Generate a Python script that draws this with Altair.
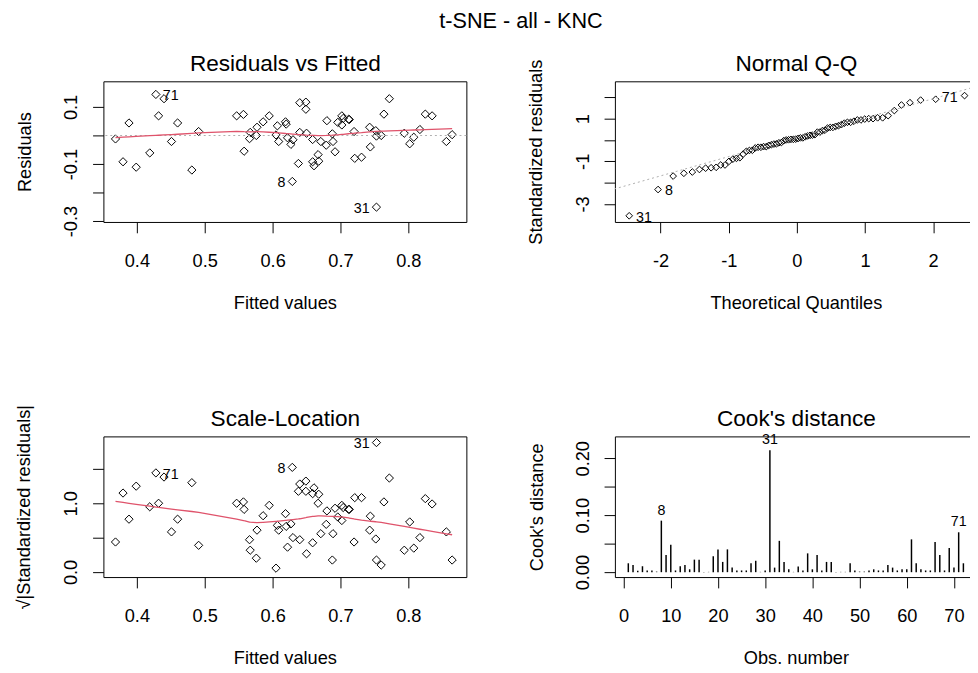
import json
import altair as alt
import pandas as pd

FONT = "Liberation Sans"
RED = "#DF536B"
GRAY = "#ADADAD"
FS = 18.5

# ---------------- data ----------------
obs = list(range(1, 73))
fitted = [0.3685, 0.3796, 0.3884, 0.3990, 0.4190, 0.4320, 0.4400, 0.6290,
          0.4510, 0.4600, 0.4810, 0.4910, 0.5470, 0.5570, 0.5580, 0.5660, 0.5670, 0.5760, 0.5770, 0.5860,
          0.5950, 0.6050, 0.6070, 0.6090, 0.6190, 0.6200, 0.6220, 0.6270, 0.6300, 0.6380,
          0.7530,
          0.6400, 0.6400, 0.6490, 0.6490, 0.6500, 0.6590, 0.6590, 0.6610, 0.6670, 0.6680,
          0.6710, 0.6790, 0.6800, 0.6880, 0.6890, 0.6920, 0.6960, 0.7020, 0.7020, 0.7040,
          0.7120, 0.7130, 0.7200, 0.7210, 0.7310, 0.7430, 0.7440, 0.7520, 0.7530, 0.7600,
          0.7640, 0.7720, 0.7940, 0.8020, 0.8080, 0.8170, 0.8250, 0.8350, 0.8560,
          0.4280, 0.8645]
residuals = [-0.012, -0.092, 0.044, -0.111, -0.061, 0.069, 0.129, -0.161,
             -0.021, 0.044, -0.121, 0.014, 0.069, 0.074, -0.055, -0.011, 0.011, 0.000, 0.029, 0.048,
             0.069, 0.002, 0.034, -0.021, 0.048, 0.040, -0.008, -0.031, -0.015, -0.098,
             -0.251,
             0.011, 0.115, 0.117, 0.092, 0.008, -0.014, -0.092, -0.106, -0.067, -0.090,
             -0.021, -0.034, 0.052, 0.006, -0.021, -0.057, 0.046, 0.069, 0.037, 0.060,
             0.057, 0.056, 0.014, -0.080, -0.076, 0.029, -0.040, 0.017, -0.002, 0.000,
             0.075, 0.129, 0.008, -0.029, -0.006, 0.021, 0.075, 0.069, -0.021,
             0.144, 0.003]
std_resid = [-0.19, -1.32, 0.59, -1.56, -0.90, 1.00, 1.91, -2.32,
             -0.34, 0.59, -1.69, 0.15, 1.00, 1.04, -0.83, -0.22, 0.10, 0.04, 0.37, 0.67,
             0.94, 0.003, 0.46, -0.37, 0.72, 0.44, -0.13, -0.49, -0.25, -1.38,
             -3.55,
             0.22, 1.64, 1.75, 1.38, 0.07, -0.18, -1.30, -1.50, -1.00, -1.28,
             -0.31, -0.48, 0.79, 0.03, -0.31, -0.86, 0.64, 0.94, 0.56, 0.88,
             0.83, 0.83, 0.19, -1.17, -1.17, 0.37, -0.66, 0.23, -0.03, 0.01,
             1.04, 1.87, 0.10, -0.53, -0.12, 0.25, 1.14, 0.98, -0.34,
             2.08, 0.03]
cooks = [0.0156, 0.0127, 0.0023, 0.0104, 0.003, 0.003, 0.001, 0.0904, 0.030, 0.048,
         0.003, 0.0104, 0.0127, 0.005, 0.022, 0.022, 0.0005, 0.0005, 0.028, 0.040,
         0.018, 0.040, 0.008, 0.003, 0.003, 0.003, 0.0156, 0.020, 0.0005, 0.003,
         0.214, 0.008, 0.055, 0.018, 0.005, 0.0005, 0.010, 0.003, 0.033, 0.005,
         0.030, 0.003, 0.018, 0.018, 0.0005, 0.0005, 0.0005, 0.0156, 0.003, 0.001,
         0.001, 0.003, 0.005, 0.003, 0.003, 0.0127, 0.008, 0.003, 0.005, 0.005,
         0.0576, 0.0156, 0.005, 0.003, 0.003, 0.053, 0.030, 0.003, 0.0426, 0.008,
         0.070, 0.0156]
label_ids = [8, 31, 71]

main_title = "t-SNE - all - KNC"
panel_titles = ["Residuals vs Fitted", "Normal Q-Q", "Scale-Location", "Cook's distance"]

fit_ticks = [0.4, 0.5, 0.6, 0.7, 0.8]
fit_tick_labels = ["0.4", "0.5", "0.6", "0.7", "0.8"]
resid_ticks = [-0.3, -0.2, -0.1, 0.0, 0.1]
resid_tick_labels = ["-0.3", "", "-0.1", "", "0.1"]
sl_ticks = [0.0, 0.5, 1.0, 1.5]
sl_tick_labels = ["0.0", "", "1.0", ""]
qq_x_ticks = [-2, -1, 0, 1, 2]
qq_x_tick_labels = ["-2", "-1", "0", "1", "2"]
qq_y_ticks = [-3, -2, -1, 0, 1, 2]
qq_y_tick_labels = ["-3", "", "-1", "", "1", ""]
cook_x_ticks = [0, 10, 20, 30, 40, 50, 60, 70]
cook_x_tick_labels = ["0", "10", "20", "30", "40", "50", "60", "70"]
cook_y_ticks = [0.0, 0.05, 0.10, 0.15, 0.20]
cook_y_tick_labels = ["0.00", "", "0.10", "", "0.20"]

df = pd.DataFrame({"obs": obs, "fitted": fitted, "residuals": residuals,
                   "std_resid": std_resid})
cook_df = pd.DataFrame({"obs": obs, "cooks": cooks})

W_L, W_R, H = 369, 361, 143   # right column is cut by the picture's edge


def lab_expr(ticks, labels):
    return f"{json.dumps(labels)}[indexof({json.dumps(ticks)}, datum.value)]"


def x_axis(title, ticks, labels, title_x):
    return alt.Axis(orient="bottom", title=title, values=ticks,
                    labelExpr=lab_expr(ticks, labels),
                    grid=False, domain=True, domainColor="black", domainWidth=1,
                    ticks=True, tickSize=11, tickColor="black", tickWidth=1,
                    labelAngle=0, labelAlign="center", labelBaseline="middle",
                    labelPadding=28, labelFont=FONT, labelFontSize=FS,
                    labelColor="black", labelOverlap=False, labelFlush=False,
                    titleX=title_x, titleY=82, titleAngle=0, titleAlign="center",
                    titleBaseline="middle", titleFont=FONT, titleFontSize=FS,
                    titleFontWeight="normal", titleColor="black")


def y_axis(title, ticks, labels, title_x=-80):
    return alt.Axis(orient="left", title=title, values=ticks,
                    labelExpr=lab_expr(ticks, labels),
                    grid=False, domain=True, domainColor="black", domainWidth=1,
                    ticks=True, tickSize=11, tickColor="black", tickWidth=1,
                    labelAngle=270, labelAlign="center", labelBaseline="middle",
                    labelPadding=22, labelFont=FONT, labelFontSize=FS,
                    labelColor="black", labelOverlap=False, labelFlush=False,
                    titleX=title_x, titleY=H / 2, titleAngle=270, titleAlign="center",
                    titleBaseline="middle", titleFont=FONT, titleFontSize=FS,
                    titleFontWeight="normal", titleColor="black")


def text_axis(orient, title, tx, ty, size=23, domain=True):
    # an axis that only carries a title (panel / figure titles) and the frame line
    return alt.Axis(orient=orient, title=title, domain=domain, domainColor="black",
                    domainWidth=1, ticks=False, labels=False, grid=False,
                    titleX=tx, titleY=ty, titleAngle=0,
                    titleAlign="center", titleBaseline="middle", titleFont=FONT,
                    titleFontSize=size, titleFontWeight="normal", titleColor="black")


def frame_axis_right():
    return alt.Axis(orient="right", title="", domain=True, domainColor="black",
                    domainWidth=1, ticks=False, labels=False, grid=False)


def qx(f):
    return alt.X(f"{f}:Q", axis=None)


def qy(f):
    return alt.Y(f"{f}:Q", axis=None)


def title_layer(base, xf, text, yf, title_x, right="frame"):
    enc = {"x": alt.X(f"{xf}:Q", axis=text_axis("top", text, title_x, -18))}
    if right == "frame":
        enc["y"] = alt.Y(f"{yf}:Q", axis=frame_axis_right())
    elif right == "figure":
        # figure title, centred over the whole 2x2 figure (x = 520 px)
        enc["y"] = alt.Y(f"{yf}:Q",
                         axis=text_axis("right", main_title, -457, -62, 22, domain=False))
    else:
        enc["y"] = qy(yf)
    return base.mark_point(opacity=0).encode(**enc)


def id_labels(base, xf, yf):
    src = (base.transform_joinaggregate(xmin=f"min({xf})", xmax=f"max({xf})")
           .transform_filter(alt.FieldOneOfPredicate(field="obs", oneOf=label_ids)))
    left = (src.transform_filter(f"datum.{xf} <= (datum.xmin + datum.xmax) / 2")
            .mark_text(align="left", baseline="middle", dx=7, dy=2, font=FONT,
                       fontSize=14.5, color="black")
            .encode(x=qx(xf), y=qy(yf), text="obs:N"))
    right = (src.transform_filter(f"datum.{xf} > (datum.xmin + datum.xmax) / 2")
             .mark_text(align="right", baseline="middle", dx=-7, dy=2, font=FONT,
                        fontSize=14.5, color="black")
             .encode(x=qx(xf), y=qy(yf), text="obs:N"))
    return left, right


# ---------------- Residuals vs Fitted ----------------
base1 = alt.Chart(df)
x1 = alt.X("fitted:Q", scale=alt.Scale(domain=[0.3507, 0.8855], nice=False, zero=False),
           axis=x_axis("Fitted values", fit_ticks, fit_tick_labels, W_L / 2))
y1 = alt.Y("residuals:Q", scale=alt.Scale(domain=[-0.303, 0.19], nice=False, zero=False),
           axis=y_axis("Residuals", resid_ticks, resid_tick_labels))
pts1 = base1.mark_point(shape="diamond", filled=False, color="black", size=70,
                        strokeWidth=1, opacity=1).encode(x=x1, y=y1)
smooth1 = (base1.transform_loess("fitted", "residuals", bandwidth=0.67)
           .mark_line(color=RED, strokeWidth=1.3)
           .encode(x=qx("fitted"), y=qy("residuals")))
zero1 = (base1.transform_aggregate(n="count()")
         .transform_calculate(zero="0")
         .mark_rule(color=GRAY, strokeDash=[2, 3], strokeWidth=1)
         .encode(y=qy("zero")))
l1, r1 = id_labels(base1, "fitted", "residuals")
t1 = title_layer(base1, "fitted", panel_titles[0], "residuals", W_L / 2)
p1 = (alt.layer(pts1, zero1, smooth1, l1, r1, t1)
      .resolve_axis(x="independent", y="independent")
      .properties(width=W_L, height=H))

# ---------------- Normal Q-Q ----------------
base2 = (alt.Chart(df)
         .transform_joinaggregate(n="count()")
         .transform_window(rank="row_number()", sort=[alt.SortField("std_resid")])
         .transform_calculate(theo="quantileNormal((datum.rank - 0.5) / datum.n)"))
x2 = alt.X("theo:Q", scale=alt.Scale(domain=[-2.67, 2.54], nice=False, zero=False),
           axis=x_axis("Theoretical Quantiles", qq_x_ticks, qq_x_tick_labels, 184))
y2 = alt.Y("std_resid:Q", scale=alt.Scale(domain=[-3.84, 2.75], nice=False, zero=False),
           axis=y_axis("Standardized residuals", qq_y_ticks, qq_y_tick_labels, -81))
pts2 = base2.mark_point(shape="diamond", filled=False, color="black", size=46,
                        strokeWidth=1, opacity=1).encode(x=x2, y=y2)
qqline = (alt.Chart(df)
          .transform_aggregate(q1="q1(std_resid)", q3="q3(std_resid)")
          .transform_calculate(slope="(datum.q3 - datum.q1) / (quantileNormal(0.75) - quantileNormal(0.25))")
          .transform_calculate(icpt="datum.q1 - datum.slope * quantileNormal(0.25)")
          .transform_calculate(xa="-4", xb="4")
          .transform_calculate(ya="datum.icpt + datum.slope * datum.xa",
                               yb="datum.icpt + datum.slope * datum.xb")
          .mark_rule(color=GRAY, strokeDash=[2, 3], strokeWidth=1, clip=True)
          .encode(x=qx("xa"), x2="xb:Q", y=qy("ya"), y2="yb:Q"))
l2, r2 = id_labels(base2, "theo", "std_resid")
t2 = title_layer(base2, "theo", panel_titles[1], "std_resid", 184, right="figure")
p2 = (alt.layer(pts2, qqline, l2, r2, t2)
      .resolve_axis(x="independent", y="independent")
      .properties(width=W_R, height=H))

# ---------------- Scale-Location ----------------
base3 = alt.Chart(df).transform_calculate(sl="sqrt(abs(datum.std_resid))")
x3 = alt.X("fitted:Q", scale=alt.Scale(domain=[0.3507, 0.8855], nice=False, zero=False),
           axis=x_axis("Fitted values", fit_ticks, fit_tick_labels, W_L / 2))
y3 = alt.Y("sl:Q", scale=alt.Scale(domain=[-0.075, 1.974], nice=False, zero=False),
           axis=y_axis("\u221a|Standardized residuals|", sl_ticks, sl_tick_labels, -81))
pts3 = base3.mark_point(shape="diamond", filled=False, color="black", size=70,
                        strokeWidth=1, opacity=1).encode(x=x3, y=y3)
smooth3 = (base3.transform_loess("fitted", "sl", bandwidth=0.67)
           .mark_line(color=RED, strokeWidth=1.3)
           .encode(x=qx("fitted"), y=qy("sl")))
l3, r3 = id_labels(base3, "fitted", "sl")
t3 = title_layer(base3, "fitted", panel_titles[2], "sl", W_L / 2)
p3 = (alt.layer(pts3, smooth3, l3, r3, t3)
      .resolve_axis(x="independent", y="independent")
      .properties(width=W_L, height=H))

# ---------------- Cook's distance ----------------
base4 = alt.Chart(cook_df)
x4 = alt.X("obs:Q", scale=alt.Scale(domain=[-1.84, 73.4], nice=False, zero=False),
           axis=x_axis("Obs. number", cook_x_ticks, cook_x_tick_labels, 184))
y4 = alt.Y("cooks:Q", scale=alt.Scale(domain=[-0.0086, 0.2383], nice=False, zero=False),
           axis=y_axis("Cook's distance", cook_y_ticks, cook_y_tick_labels, -80))
bars4 = base4.mark_rule(color="black", strokeWidth=1.5).encode(x=x4, y=y4, y2=alt.datum(0))
lab4 = (base4.transform_filter(alt.FieldOneOfPredicate(field="obs", oneOf=label_ids))
        .mark_text(align="center", baseline="middle", dy=-10, font=FONT, fontSize=14.5,
                   color="black")
        .encode(x=qx("obs"), y=qy("cooks"), text="obs:N"))
t4 = title_layer(base4, "obs", panel_titles[3], "cooks", 184, right="none")
p4 = (alt.layer(bars4, lab4, t4)
      .resolve_axis(x="independent", y="independent")
      .properties(width=W_R, height=H))

chart = alt.concat(p1, p2, p3, p4, columns=2,
                   spacing={"row": 218, "column": 151}, bounds="flush").properties(
    padding={"left": 7, "top": -4, "right": 0, "bottom": 0},
    background="white",
).configure_view(strokeWidth=0)

chart.save("out.html", embed_options={"renderer": "svg", "actions": False})
